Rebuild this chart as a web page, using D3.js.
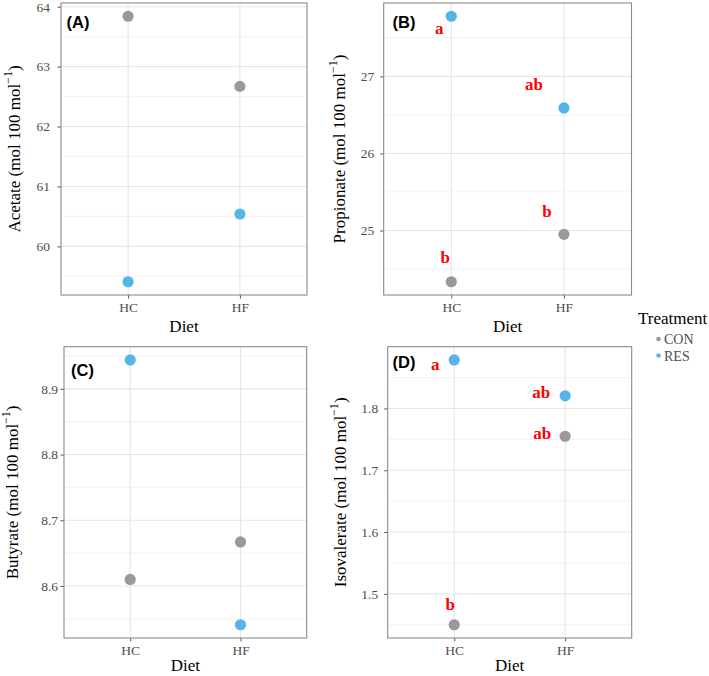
<!DOCTYPE html>
<html>
<head>
<meta charset="utf-8">
<script src="https://cdn.jsdelivr.net/npm/d3@7"></script>
<style>
  html, body { margin: 0; padding: 0; background: #fff; }
  svg { display: block; }
</style>
</head>
<body>
<svg id="chart" width="709" height="676"></svg>
<script>
// ---------------- data ----------------
const diets = ["HC", "HF"];
const treatments = ["CON", "RES"];

const acetateCON = [63.84, 62.67];
const acetateRES = [59.41, 60.54];
const acetateTicks = [60, 61, 62, 63, 64];

const propionateCON = [24.335, 24.95];
const propionateRES = [27.78, 26.59];
const propionateTicks = [25, 26, 27];
const propionateLettersCON = ["b", "b"];
const propionateLettersRES = ["a", "ab"];

const butyrateCON = [8.610, 8.667];
const butyrateRES = [8.944, 8.541];
const butyrateTicks = [8.6, 8.7, 8.8, 8.9];

const isovalerateCON = [1.450, 1.755];
const isovalerateRES = [1.8785, 1.8205];
const isovalerateTicks = [1.5, 1.6, 1.7, 1.8];
const isovalerateLettersCON = ["b", "ab"];
const isovalerateLettersRES = ["a", "ab"];

// ---------------- style / layout ----------------
const colors = { CON: "#999999", RES: "#56B4E9" };
const serif = "'Liberation Serif', 'Times New Roman', serif";
const sans = "'Liberation Sans', Arial, sans-serif";

const panels = [
  { tag: "(A)", name: "Acetate", CON: acetateCON, RES: acetateRES, ticks: acetateTicks, fmt: d3.format("d"),
    box: { l: 61, r: 307, t: 3, b: 295 }, tagPos: [66.5, 21.5], titleX: 13.5, labGap: 11, xTitleY: 326.5,
    letters: null },
  { tag: "(B)", name: "Propionate", CON: propionateCON, RES: propionateRES, ticks: propionateTicks, fmt: d3.format("d"),
    box: { l: 383.7, r: 631.5, t: 3, b: 295 }, tagPos: [392.5, 21.5], titleX: 339, labGap: 9.5, xTitleY: 326.5,
    letters: { CON: propionateLettersCON, RES: propionateLettersRES },
    offs: { CON: [[-6, -24], [-17, -23]], RES: [[-12, 12], [-30, -23]] } },
  { tag: "(C)", name: "Butyrate", CON: butyrateCON, RES: butyrateRES, ticks: butyrateTicks, fmt: d3.format(".1f"),
    box: { l: 64, r: 306.7, t: 346.7, b: 638 }, tagPos: [71, 369.5], titleX: 12, labGap: 6, xTitleY: 665,
    letters: null },
  { tag: "(D)", name: "Isovalerate", CON: isovalerateCON, RES: isovalerateRES, ticks: isovalerateTicks, fmt: d3.format(".1f"),
    box: { l: 387.7, r: 631.7, t: 346.7, b: 638 }, tagPos: [392.5, 361.5], titleX: 340, labGap: 9.5, xTitleY: 665,
    letters: { CON: isovalerateLettersCON, RES: isovalerateLettersRES },
    offs: { CON: [[-4, -20], [-23, -3]], RES: [[-19, 5], [-24, -3]] } }
];

const svg = d3.select("#chart");

panels.forEach(p => {
  const { l, r, t, b } = p.box;
  const all = p.CON.concat(p.RES);
  const mn = d3.min(all), mx = d3.max(all), span = mx - mn;
  const y = d3.scaleLinear().domain([mn - 0.05 * span, mx + 0.05 * span]).range([b, t]);
  const x = d3.scalePoint().domain(diets).range([l, r]).padding(0.6);

  const g = svg.append("g");

  // minor grid
  const step = p.ticks[1] - p.ticks[0];
  const minors = [];
  for (let i = -1; i < p.ticks.length; i++) {
    const v = p.ticks[0] + (i + 0.5) * step;
    if (v >= y.domain()[0] && v <= y.domain()[1]) minors.push(v);
  }
  g.selectAll(".minor").data(minors).join("line")
    .attr("x1", l).attr("x2", r)
    .attr("y1", d => y(d)).attr("y2", d => y(d))
    .attr("stroke", "#f0f0f0").attr("stroke-width", 0.8);

  // major grid
  g.selectAll(".majorY").data(p.ticks).join("line")
    .attr("x1", l).attr("x2", r)
    .attr("y1", d => y(d)).attr("y2", d => y(d))
    .attr("stroke", "#e6e6e6").attr("stroke-width", 1.1);
  g.selectAll(".majorX").data(diets).join("line")
    .attr("x1", d => x(d)).attr("x2", d => x(d))
    .attr("y1", t).attr("y2", b)
    .attr("stroke", "#e6e6e6").attr("stroke-width", 1.1);

  // axes (ticks + labels)
  const yAxis = g.append("g").attr("transform", `translate(${l},0)`)
    .call(d3.axisLeft(y).tickValues(p.ticks).tickFormat(p.fmt).tickSize(3.5).tickPadding(p.labGap - 3.5));
  yAxis.select(".domain").remove();
  yAxis.selectAll(".tick line").attr("stroke", "#555");
  yAxis.selectAll(".tick text").attr("fill", "#4d4d4d")
    .style("font-family", serif).style("font-size", "13.5px");

  const xAxis = g.append("g").attr("transform", `translate(0,${b})`)
    .call(d3.axisBottom(x).tickSize(3.5).tickPadding(4));
  xAxis.select(".domain").remove();
  xAxis.selectAll(".tick line").attr("stroke", "#555");
  xAxis.selectAll(".tick text").attr("fill", "#4d4d4d")
    .style("font-family", serif).style("font-size", "13.5px");

  // panel border
  g.append("rect").attr("x", l).attr("y", t).attr("width", r - l).attr("height", b - t)
    .attr("fill", "none").attr("stroke", "#8a8a8a").attr("stroke-width", 1.1);

  // points
  treatments.forEach(tr => {
    g.selectAll(".pt-" + tr).data(p[tr]).join("circle")
      .attr("cx", (d, i) => x(diets[i]))
      .attr("cy", d => y(d))
      .attr("r", 5.6)
      .attr("fill", colors[tr]);
  });

  // significance letters
  if (p.letters) {
    treatments.forEach(tr => {
      g.selectAll(".lt-" + tr).data(p.letters[tr]).join("text")
        .attr("x", (d, i) => x(diets[i]) + p.offs[tr][i][0])
        .attr("y", (d, i) => y(p[tr][i]) + p.offs[tr][i][1])
        .attr("text-anchor", "middle").attr("dominant-baseline", "central")
        .attr("fill", "#ff0000")
        .style("font-family", serif).style("font-weight", "bold").style("font-size", "17px")
        .text(d => d);
    });
  }

  // panel tag
  g.append("text").attr("x", p.tagPos[0]).attr("y", p.tagPos[1])
    .attr("dominant-baseline", "central")
    .style("font-family", sans).style("font-weight", "bold").style("font-size", "16.5px")
    .attr("fill", "#000").text(p.tag);

  // x title
  g.append("text").attr("x", (l + r) / 2).attr("y", p.xTitleY)
    .attr("text-anchor", "middle").attr("dominant-baseline", "central")
    .style("font-family", serif).style("font-size", "17px").attr("fill", "#000")
    .text("Diet");

  // y title
  const yt = g.append("text")
    .attr("transform", `translate(${p.titleX},${(t + b) / 2}) rotate(-90)`)
    .attr("text-anchor", "middle").attr("dominant-baseline", "central")
    .style("font-family", serif).style("font-size", "17px").attr("fill", "#000");
  yt.append("tspan").text(p.name + " (mol 100 mol");
  yt.append("tspan").attr("dy", -6).style("font-size", "12px").text("\u22121");
  yt.append("tspan").attr("dy", 6).text(")");
});

// legend
const leg = svg.append("g");
leg.append("text").attr("x", 638).attr("y", 318)
  .attr("dominant-baseline", "central")
  .style("font-family", serif).style("font-size", "17px").attr("fill", "#000")
  .text("Treatment");
treatments.forEach((tr, i) => {
  const cy = 339 + i * 16.5;
  leg.append("circle").attr("cx", 658.5).attr("cy", cy).attr("r", 2.3).attr("fill", colors[tr]);
  leg.append("text").attr("x", 664).attr("y", cy + 0.5)
    .attr("dominant-baseline", "central")
    .style("font-family", serif).style("font-size", "14px").attr("fill", "#4d4d4d")
    .text(tr);
});
</script>
</body>
</html>
